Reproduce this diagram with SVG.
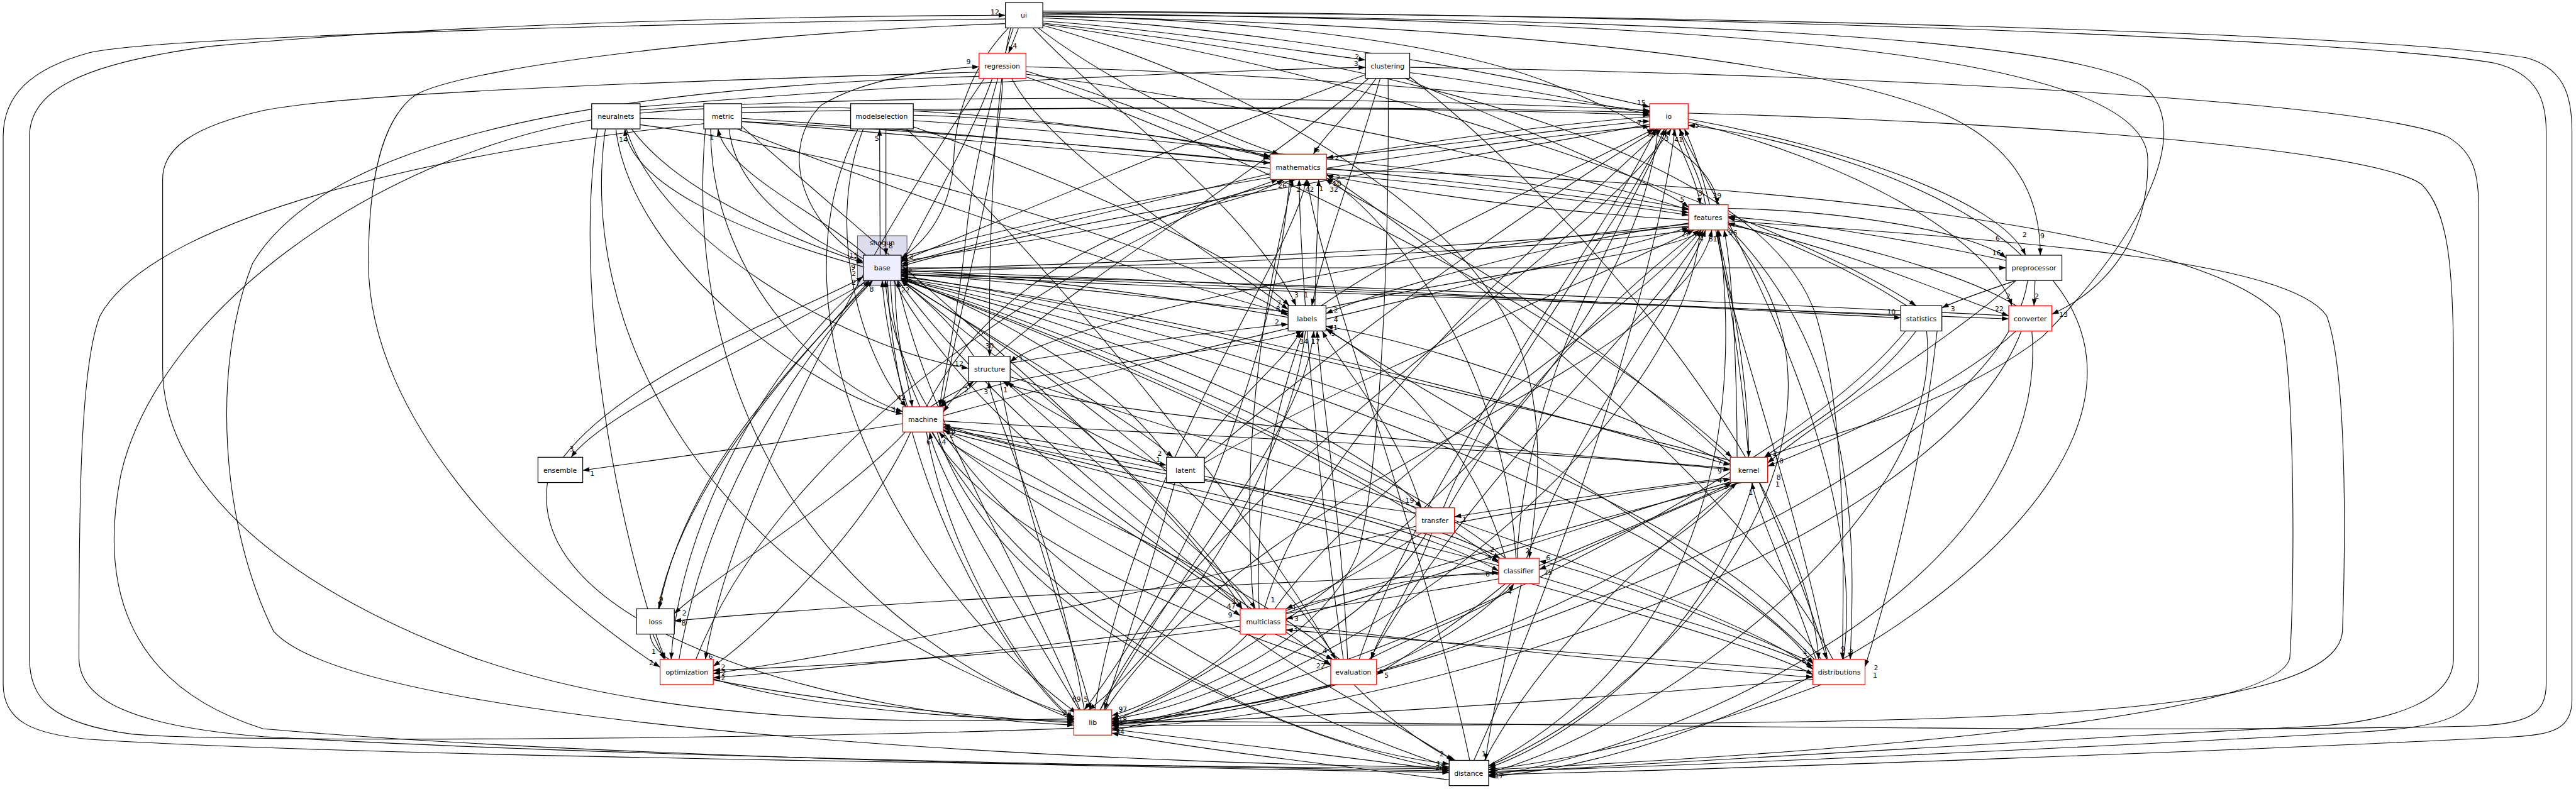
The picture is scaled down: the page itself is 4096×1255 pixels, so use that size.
<svg xmlns="http://www.w3.org/2000/svg" width="4096" height="1255" viewBox="0 0 4096 1255">
<defs>
<marker id="a" viewBox="0 0 10 7" refX="10" refY="3.5" markerWidth="13" markerHeight="9" orient="auto" markerUnits="userSpaceOnUse"><path d="M0,0L10,3.5L0,7z" fill="#000"/></marker>
<style>
.e path{fill:none;stroke:#000;stroke-width:1.3;marker-end:url(#a)}
.n rect{fill:#fff;stroke:#000;stroke-width:1.5}
.r rect{stroke:#ff0000}
.b rect{fill:#eeeeff}
text{font-family:'DejaVu Sans','Liberation Sans',sans-serif;font-size:13px;text-anchor:middle;fill:#000}
</style>
</defs>
<rect width="4096" height="1255" fill="#fff"/>
<g transform="scale(0.837)">
<g id="cluster-shogun"><rect x="1629" y="448" width="94" height="95" fill="#ddddee" stroke="#666" stroke-width="1.3"/><text x="1676" y="466">shogun</text></g>
<g id="connectors" class="e">
<path d="M1935,53 L1916,101"/>
<path d="M1981,40 C2200,55 2450,95 2594,114"/>
<path d="M1981,34 C2400,50 2900,150 3134,203"/>
<path d="M1981,30 C2400,38 2750,80 2950,160 C3150,240 3262,320 3262,389"/>
<path d="M1981,31 C2800,45 3450,110 3700,220 C3850,290 3876,400 3876,485"/>
<path d="M1981,27 C3000,35 3950,60 4080,170 C4170,260 4050,470 3880,640 C3700,780 3450,830 3352,869"/>
<path d="M1981,25 C3200,40 4070,90 4080,300 C4085,470 3980,560 3898,597"/>
<path d="M1981,23 C3200,28 4500,60 4800,110 C4870,130 4886,180 4886,250 L4886,1330 C4886,1385 4850,1395 4780,1400 C4300,1425 3300,1462 2828,1472"/>
<path d="M1981,21 C3100,25 4450,70 4740,120 C4820,140 4837,190 4837,250 L4837,1300 C4837,1360 4800,1375 4700,1380 C4000,1395 2700,1372 2112,1370"/>
<path d="M1916,53 C1860,110 1815,200 1812,300 C1808,390 1770,450 1712,491"/>
<path d="M1925,53 C1890,160 1850,300 1835,450 C1820,600 1795,700 1785,773"/>
<path d="M1962,53 C2100,200 2380,400 2462,581"/>
<path d="M1972,53 C2100,150 2300,250 2430,293"/>
<path d="M1981,48 C2350,150 2820,400 2900,700 C2940,850 2912,1000 2905,1061"/>
<path d="M1981,44 C2700,120 3350,300 3450,600 C3510,800 3502,1100 3500,1253"/>
<path d="M1920,53 C1885,200 1878,500 1880,677"/>
<path d="M1981,46 C2600,130 3400,420 3640,581"/>
<path d="M1910,36 C1400,42 320,66 170,100 C60,130 6,180 6,260 L6,1300 C6,1370 60,1395 170,1405 C700,1440 2300,1457 2753,1461"/>
<path d="M2040,1384 C1500,1405 420,1412 250,1395 C100,1375 56,1330 56,1250 L56,260 C56,170 160,120 400,88 C900,40 1600,30 1910,29"/>
<path d="M1860,137 C1500,148 700,170 500,210 C370,240 309,280 309,340 L309,700 C309,900 500,1100 900,1250 C1300,1390 1800,1370 2040,1366"/>
<path d="M1910,45 C1500,58 900,120 790,180 C740,215 700,300 700,500 C700,800 1000,1100 1254,1268"/>
<path d="M1337,235 C900,280 300,400 190,600 C150,700 150,1000 150,1250 C150,1330 250,1380 500,1400 C1200,1440 2300,1458 2753,1465"/>
<path d="M1124,228 C700,300 300,600 230,900 C190,1100 230,1300 500,1385 C1200,1445 2300,1460 2753,1468"/>
<path d="M1860,145 C1000,170 600,300 480,500 C400,700 420,1000 520,1200 C700,1400 2300,1455 2753,1458"/>
<path d="M2678,128 C3500,140 4500,190 4650,260 C4700,290 4709,330 4709,400 L4709,1280 C4709,1360 4650,1380 4500,1390 C4000,1420 3100,1460 2828,1466"/>
<path d="M3207,215 C3800,230 4500,280 4600,350 C4650,400 4661,500 4661,700 L4661,1250 C4661,1330 4550,1370 4400,1380 C3800,1410 3100,1455 2828,1469"/>
<path d="M3283,420 C3900,460 4350,500 4420,600 C4457,700 4457,1000 4450,1200 C4440,1330 4000,1360 3500,1370 C3000,1380 2400,1378 2112,1378"/>
<path d="M2520,322 C3500,350 4200,450 4330,600 C4360,700 4360,1100 4350,1250 C4330,1350 3700,1420 2828,1463"/>
<path d="M1949,127 C2400,138 2900,180 3134,212"/>
<path d="M1949,135 C2100,180 2300,260 2413,303"/>
<path d="M1949,141 C2400,200 3000,330 3208,399"/>
<path d="M1885,149 C1850,250 1765,400 1712,500"/>
<path d="M1922,149 C2000,300 2330,500 2447,588"/>
<path d="M1905,149 C1900,300 1820,600 1790,773"/>
<path d="M1949,146 C2400,300 3000,600 3290,869"/>
<path d="M1870,149 C1700,400 1400,900 1340,1253"/>
<path d="M1640,492 C1520,420 1480,280 1560,200 C1640,150 1780,130 1860,127"/>
<path d="M2614,149 C2580,200 2520,250 2495,293"/>
<path d="M2678,138 C2850,160 3050,200 3134,217"/>
<path d="M2670,149 C2900,250 3150,350 3208,394"/>
<path d="M2594,142 C2300,250 1900,420 1712,496"/>
<path d="M2678,146 C3000,400 3430,900 3455,1253"/>
<path d="M2622,149 C2580,300 2520,450 2492,581"/>
<path d="M2637,149 C2640,500 2620,900 2580,1050 C2500,1250 2200,1340 2112,1366"/>
<path d="M2600,149 C2300,400 1900,620 1792,783"/>
<path d="M1216,203 C1700,160 2300,135 2594,128"/>
<path d="M1200,245 C1300,380 1550,470 1640,500"/>
<path d="M1216,215 C1600,180 2100,230 2413,299"/>
<path d="M1216,225 C1700,230 2900,350 3208,404"/>
<path d="M1216,209 C1800,170 2800,190 3134,210"/>
<path d="M1170,245 C1200,500 1550,750 1715,787"/>
<path d="M1150,245 C1100,600 1300,1100 2040,1362"/>
<path d="M1135,245 C1080,600 1200,1100 1264,1253"/>
<path d="M1216,237 C1700,300 2300,500 2447,600"/>
<path d="M1190,245 C1250,450 1600,660 1840,700"/>
<path d="M1640,507 C1400,440 1200,350 1187,245"/>
<path d="M1385,245 C1400,380 1560,470 1640,497"/>
<path d="M1409,225 C1800,250 2200,290 2413,310"/>
<path d="M1409,231 C1900,270 2900,360 3208,409"/>
<path d="M1409,214 C2000,200 2800,205 3134,219"/>
<path d="M1350,245 C1350,550 1600,750 1715,782"/>
<path d="M1340,245 C1300,700 1500,1150 2040,1368"/>
<path d="M1409,240 C1700,500 2200,900 2360,1157"/>
<path d="M1400,245 C1800,400 2300,560 2447,596"/>
<path d="M1645,485 C1550,400 1380,330 1364,245"/>
<path d="M1683,245 L1683,485"/>
<path d="M1672,485 L1671,245"/>
<path d="M1735,219 C2000,225 2300,270 2413,297"/>
<path d="M1735,229 C2200,260 2900,340 3208,397"/>
<path d="M1735,211 C2200,200 2800,205 3134,214"/>
<path d="M1640,245 C1560,450 1650,700 1722,773"/>
<path d="M1722,245 C2000,500 2400,1000 2537,1253"/>
<path d="M1630,245 C1450,600 1700,1100 2045,1355"/>
<path d="M1735,241 C2000,330 2350,480 2449,581"/>
<path d="M3134,236 C2800,300 2000,420 1712,506"/>
<path d="M3150,245 C3100,700 2500,1200 2112,1372"/>
<path d="M2520,300 C2800,270 3000,240 3134,230"/>
<path d="M3240,389 C3230,330 3200,290 3192,245"/>
<path d="M1712,489 C2200,350 2900,260 3134,240"/>
<path d="M2510,581 C2700,450 3000,320 3142,245"/>
<path d="M2090,1349 C2300,900 3000,500 3175,245"/>
<path d="M3207,226 C3500,280 3800,380 3848,485"/>
<path d="M3207,232 C3500,300 3780,450 3822,581"/>
<path d="M3178,245 C3200,300 3225,350 3230,389"/>
<path d="M2413,330 C2200,380 1900,450 1712,502"/>
<path d="M2450,341 C2420,700 2250,1100 2060,1349"/>
<path d="M1712,497 C2000,450 2350,400 2438,341"/>
<path d="M2080,1349 C2150,900 2450,500 2482,341"/>
<path d="M3208,418 C2900,400 2650,360 2520,333"/>
<path d="M2498,581 C2500,480 2505,400 2505,341"/>
<path d="M1760,773 C1900,500 2200,400 2462,341"/>
<path d="M3287,878 C3000,600 2650,420 2518,341"/>
<path d="M2880,1061 C2860,700 2650,420 2520,338"/>
<path d="M3134,222 C2900,240 2650,280 2520,300"/>
<path d="M3208,430 C2700,480 2100,500 1712,512"/>
<path d="M3230,437 C3200,800 2600,1300 2112,1388"/>
<path d="M1712,516 C2300,505 3000,470 3212,437"/>
<path d="M2100,1349 C2400,900 3200,700 3252,437"/>
<path d="M3300,869 C3300,700 3290,500 3275,437"/>
<path d="M3283,427 C3500,470 3700,560 3816,600"/>
<path d="M3262,437 C3300,600 3322,750 3322,869"/>
<path d="M3208,424 C2900,470 2600,560 2519,596"/>
<path d="M3281,437 C3600,800 3200,1300 2828,1456"/>
<path d="M2519,586 C2800,520 3200,480 3232,437"/>
<path d="M3283,432 C3550,700 3520,1100 3515,1253"/>
<path d="M1792,790 C2300,650 3000,500 3208,432"/>
<path d="M3283,396 C3500,400 3750,440 3811,490"/>
<path d="M1686,533 C1700,900 1900,1250 2040,1372"/>
<path d="M1712,520 C2000,540 2300,580 2447,592"/>
<path d="M1700,533 C1700,650 1725,720 1733,773"/>
<path d="M1712,526 C2300,600 3000,800 3287,884"/>
<path d="M1712,531 C2200,700 2700,950 2847,1070"/>
<path d="M1706,533 C1900,800 2250,1050 2360,1157"/>
<path d="M1698,533 C1900,900 2400,1150 2528,1265"/>
<path d="M1692,533 C1700,1000 2300,1400 2753,1452"/>
<path d="M1712,529 C2500,700 3300,1050 3444,1262"/>
<path d="M1712,515 C2500,540 3300,590 3611,604"/>
<path d="M1712,522 C2500,560 3500,590 3816,606"/>
<path d="M1712,509 L3811,509"/>
<path d="M1650,533 C1450,650 1150,780 1085,869"/>
<path d="M1656,533 C1500,700 1300,900 1252,1157"/>
<path d="M1645,533 C1450,700 1290,1000 1275,1253"/>
<path d="M1712,530 C2200,650 2600,850 2700,965"/>
<path d="M1712,533 C1900,650 2150,800 2228,869"/>
<path d="M2447,603 C2200,560 1900,520 1712,514"/>
<path d="M2480,629 C2450,900 2200,1250 2068,1349"/>
<path d="M1782,773 C1900,700 2300,680 2475,629"/>
<path d="M2090,1349 C2300,1000 2480,800 2496,629"/>
<path d="M3287,882 C3000,750 2700,650 2519,620"/>
<path d="M2860,1061 C2800,850 2650,700 2519,626"/>
<path d="M1919,690 C2100,660 2300,630 2447,616"/>
<path d="M3611,600 C3000,570 2200,540 1712,518"/>
<path d="M3640,629 C3550,750 3400,830 3352,869"/>
<path d="M3620,629 C3400,900 2600,1300 2112,1380"/>
<path d="M3660,629 C3700,1000 3100,1400 2828,1468"/>
<path d="M3622,581 C3500,500 3350,440 3283,424"/>
<path d="M3680,629 C3650,900 3580,1150 3543,1267"/>
<path d="M3830,533 C3780,550 3720,570 3689,585"/>
<path d="M3830,581 C3700,500 3400,440 3283,414"/>
<path d="M3830,629 C3700,750 3450,850 3358,886"/>
<path d="M3860,629 C3900,1100 3200,1420 2828,1474"/>
<path d="M3840,629 C3700,1000 2800,1350 2112,1384"/>
<path d="M3816,600 C3000,560 2200,530 1712,522"/>
<path d="M3866,533 L3864,581"/>
<path d="M3811,495 C3600,450 3400,420 3283,412"/>
<path d="M3830,533 C3700,650 3450,800 3358,880"/>
<path d="M3852,533 C3800,900 2700,1330 2112,1375"/>
<path d="M3900,533 C4200,900 3400,1430 2828,1476"/>
<path d="M3840,485 C3700,350 3400,260 3207,238"/>
<path d="M1850,677 C1800,600 1730,550 1712,532"/>
<path d="M1856,725 C1830,750 1800,765 1785,773"/>
<path d="M1768,773 C1800,750 1830,740 1850,725"/>
<path d="M2060,1349 C2000,1000 1890,800 1878,725"/>
<path d="M3287,890 C2800,850 2000,780 1905,725"/>
<path d="M3208,426 C2600,480 2000,620 1919,688"/>
<path d="M1900,725 C1950,1000 2050,1250 2072,1349"/>
<path d="M1919,716 C2500,900 3300,1150 3444,1272"/>
<path d="M1910,725 C2100,900 2350,1100 2385,1157"/>
<path d="M1724,773 C1700,700 1680,600 1676,533"/>
<path d="M1760,821 C1800,1050 1950,1300 2040,1366"/>
<path d="M1715,805 C1500,840 1200,880 1107,894"/>
<path d="M1720,821 C1600,950 1350,1100 1281,1166"/>
<path d="M1730,821 C1650,1000 1450,1200 1355,1266"/>
<path d="M1792,810 C1950,830 2100,860 2216,884"/>
<path d="M1792,800 C2300,830 3000,860 3287,893"/>
<path d="M1780,821 C1900,1200 2500,1420 2753,1462"/>
<path d="M1770,821 C1900,1050 2400,1220 2528,1262"/>
<path d="M2690,975 C2300,920 1900,850 1792,806"/>
<path d="M2847,1075 C2500,980 2000,870 1792,812"/>
<path d="M2360,1157 C2150,1000 1900,870 1792,817"/>
<path d="M2050,1349 C1900,1100 1780,900 1766,821"/>
<path d="M2545,1253 C2300,1050 1850,900 1784,821"/>
<path d="M1792,815 C2300,900 2700,1000 2847,1085"/>
<path d="M1782,821 C2000,1000 2300,1130 2356,1170"/>
<path d="M1792,819 C2500,1000 3300,1200 3444,1282"/>
<path d="M1070,869 C1200,700 1550,580 1640,526"/>
<path d="M1040,917 C1000,1200 1600,1360 2040,1378"/>
<path d="M2220,869 C2100,700 1850,580 1712,528"/>
<path d="M2270,869 C2350,750 2450,680 2470,629"/>
<path d="M2288,880 C2600,700 3100,500 3218,437"/>
<path d="M2232,917 C2180,1100 2120,1280 2098,1349"/>
<path d="M2216,890 C2100,840 1950,760 1914,725"/>
<path d="M2288,905 C2500,950 2750,1020 2847,1066"/>
<path d="M2288,872 C2600,600 3050,300 3152,245"/>
<path d="M3287,875 C2800,750 2100,580 1712,524"/>
<path d="M3300,917 C3100,1150 2500,1350 2112,1371"/>
<path d="M3330,917 C3250,1200 3000,1400 2828,1459"/>
<path d="M3342,917 C3400,1050 3450,1180 3470,1253"/>
<path d="M3322,869 C3300,600 3250,350 3200,245"/>
<path d="M3287,908 C3100,930 2900,960 2763,982"/>
<path d="M2763,994 C2950,960 3150,925 3287,911"/>
<path d="M2924,1075 C3100,1000 3250,940 3290,917"/>
<path d="M3450,1253 C3400,1100 3340,980 3328,917"/>
<path d="M3305,917 C3100,1000 2980,1060 2924,1082"/>
<path d="M2443,1165 C2800,1050 3200,940 3358,906"/>
<path d="M3290,915 C3000,1000 2600,1140 2443,1176"/>
<path d="M2820,1445 C2950,1200 3200,1000 3300,917"/>
<path d="M2740,1013 C2790,1030 2830,1050 2850,1061"/>
<path d="M2700,1013 C2600,1080 2480,1140 2443,1157"/>
<path d="M2720,1013 C2680,1120 2620,1200 2605,1253"/>
<path d="M2710,1013 C2600,1200 2300,1340 2112,1367"/>
<path d="M2690,978 C2400,800 1900,600 1712,530"/>
<path d="M2752,965 C2900,700 3150,500 3228,437"/>
<path d="M2700,965 C2650,800 2550,700 2512,629"/>
<path d="M2742,965 C2850,700 3100,400 3162,245"/>
<path d="M2690,1000 C2300,1100 1700,1230 1355,1280"/>
<path d="M2890,1109 C2860,1250 2830,1380 2822,1445"/>
<path d="M2870,1109 C2700,1300 2300,1370 2112,1376"/>
<path d="M2860,1061 C2600,850 2000,620 1712,531"/>
<path d="M2900,1061 C3000,800 3200,550 3240,437"/>
<path d="M2882,1061 C2900,700 3100,400 3166,245"/>
<path d="M2443,1160 C2600,1110 2750,1090 2847,1088"/>
<path d="M2860,1109 C2750,1200 2650,1260 2615,1282"/>
<path d="M2924,1096 C3100,1150 3350,1220 3444,1266"/>
<path d="M2847,1100 C2300,1200 1700,1260 1355,1288"/>
<path d="M2600,1253 C2700,1200 2850,1150 2876,1109"/>
<path d="M3444,1260 C3200,1150 3000,1080 2924,1066"/>
<path d="M2847,1090 C2300,1110 1600,1150 1281,1180"/>
<path d="M2372,1205 C2500,1300 2700,1400 2760,1445"/>
<path d="M2370,1205 C2300,1280 2180,1340 2112,1360"/>
<path d="M2422,1205 C2480,1230 2515,1245 2532,1253"/>
<path d="M2356,1190 C2000,1240 1600,1265 1355,1274"/>
<path d="M2372,1157 C2200,900 1850,650 1712,532"/>
<path d="M2422,1157 C2600,900 3100,600 3232,437"/>
<path d="M2392,1157 C2380,900 2450,700 2476,629"/>
<path d="M2402,1157 C2500,800 3000,400 3156,245"/>
<path d="M2382,1157 C2350,800 2420,500 2456,341"/>
<path d="M2443,1187 C2800,1230 3200,1270 3444,1287"/>
<path d="M3444,1276 C3100,1250 2700,1215 2443,1197"/>
<path d="M1235,1205 C1240,1300 1600,1360 2040,1371"/>
<path d="M1250,1157 C1300,900 1550,650 1652,533"/>
<path d="M1240,1205 L1262,1253"/>
<path d="M1355,1292 C1600,1340 1900,1365 2040,1374"/>
<path d="M1290,1253 C1350,900 1550,650 1658,533"/>
<path d="M1322,1253 C1500,800 2100,450 2428,341"/>
<path d="M2540,1301 C2400,1340 2200,1365 2112,1373"/>
<path d="M2540,1253 C2300,900 1900,650 1712,532"/>
<path d="M2560,1253 C2550,1000 2510,750 2502,629"/>
<path d="M2602,1253 C2800,900 3150,600 3236,437"/>
<path d="M2582,1253 C2700,900 3050,450 3146,245"/>
<path d="M2572,1301 C2650,1380 2730,1430 2765,1445"/>
<path d="M2552,1253 C2500,900 2470,500 2468,341"/>
<path d="M3444,1291 C3000,1330 2500,1365 2112,1375"/>
<path d="M3460,1253 C3200,900 2200,600 1712,529"/>
<path d="M3472,1253 C3400,900 3280,600 3262,437"/>
<path d="M3502,1253 C3550,900 3300,450 3190,245"/>
<path d="M3482,1253 C3300,900 2700,450 2520,331"/>
<path d="M3450,1256 C3200,1000 2700,750 2519,624"/>
<path d="M3460,1301 C3200,1400 2950,1450 2828,1462"/>
<path d="M2052,1349 C1950,1100 1760,800 1705,533"/>
<path d="M2112,1386 C2400,1420 2650,1450 2753,1465"/>
<path d="M2753,1482 C2500,1450 2250,1420 2112,1393"/>
<path d="M2828,1455 C3300,1200 3300,700 3265,437"/>
<path d="M2753,1458 C2000,1200 1700,800 1682,533"/>
<path d="M2800,1445 C3000,1000 3150,500 3182,245"/>
<path d="M2792,1445 C2700,1000 2500,500 2484,341"/>
</g>
<g id="node-ui" class="n"><rect x="1910" y="5" width="71" height="48"/><text x="1945" y="34">ui</text></g>
<g id="node-regression" class="n r"><rect x="1860" y="101" width="89" height="48"/><text x="1904" y="130">regression</text></g>
<g id="node-clustering" class="n"><rect x="2594" y="101" width="84" height="48"/><text x="2636" y="130">clustering</text></g>
<g id="node-neuralnets" class="n"><rect x="1124" y="197" width="92" height="48"/><text x="1170" y="226">neuralnets</text></g>
<g id="node-metric" class="n"><rect x="1337" y="197" width="72" height="48"/><text x="1373" y="226">metric</text></g>
<g id="node-modelselection" class="n"><rect x="1616" y="197" width="119" height="48"/><text x="1675" y="226">modelselection</text></g>
<g id="node-io" class="n r"><rect x="3134" y="197" width="73" height="48"/><text x="3170" y="226">io</text></g>
<g id="node-mathematics" class="n r"><rect x="2413" y="293" width="107" height="48"/><text x="2466" y="322">mathematics</text></g>
<g id="node-features" class="n r"><rect x="3208" y="389" width="75" height="48"/><text x="3245" y="418">features</text></g>
<g id="node-base" class="n b"><rect x="1640" y="485" width="72" height="48"/><text x="1676" y="514">base</text></g>
<g id="node-preprocessor" class="n"><rect x="3811" y="485" width="106" height="48"/><text x="3864" y="514">preprocessor</text></g>
<g id="node-labels" class="n"><rect x="2447" y="581" width="72" height="48"/><text x="2483" y="610">labels</text></g>
<g id="node-statistics" class="n"><rect x="3611" y="581" width="78" height="48"/><text x="3650" y="610">statistics</text></g>
<g id="node-converter" class="n r"><rect x="3816" y="581" width="82" height="48"/><text x="3857" y="610">converter</text></g>
<g id="node-structure" class="n"><rect x="1840" y="677" width="79" height="48"/><text x="1880" y="706">structure</text></g>
<g id="node-machine" class="n r"><rect x="1715" y="773" width="77" height="48"/><text x="1753" y="802">machine</text></g>
<g id="node-ensemble" class="n"><rect x="1022" y="869" width="85" height="48"/><text x="1064" y="898">ensemble</text></g>
<g id="node-latent" class="n"><rect x="2216" y="869" width="72" height="48"/><text x="2252" y="898">latent</text></g>
<g id="node-kernel" class="n r"><rect x="3287" y="869" width="71" height="48"/><text x="3322" y="898">kernel</text></g>
<g id="node-transfer" class="n r"><rect x="2690" y="965" width="73" height="48"/><text x="2726" y="994">transfer</text></g>
<g id="node-classifier" class="n r"><rect x="2847" y="1061" width="77" height="48"/><text x="2885" y="1090">classifier</text></g>
<g id="node-loss" class="n"><rect x="1209" y="1157" width="72" height="48"/><text x="1245" y="1186">loss</text></g>
<g id="node-multiclass" class="n r"><rect x="2356" y="1157" width="87" height="48"/><text x="2400" y="1186">multiclass</text></g>
<g id="node-optimization" class="n r"><rect x="1254" y="1253" width="101" height="48"/><text x="1305" y="1282">optimization</text></g>
<g id="node-evaluation" class="n r"><rect x="2528" y="1253" width="87" height="48"/><text x="2571" y="1282">evaluation</text></g>
<g id="node-distributions" class="n r"><rect x="3444" y="1253" width="99" height="48"/><text x="3494" y="1282">distributions</text></g>
<g id="node-lib" class="n r"><rect x="2040" y="1349" width="72" height="48"/><text x="2076" y="1378">lib</text></g>
<g id="node-distance" class="n"><rect x="2753" y="1445" width="75" height="48"/><text x="2790" y="1474">distance</text></g>
<g id="edge-labels">
<text x="1890" y="28">12</text><text x="1928" y="92">4</text><text x="1840" y="122">9</text><text x="2578" y="112">2</text><text x="2576" y="126">3</text>
<text x="1184" y="270">14</text><text x="1352" y="265">1</text><text x="1666" y="268">5</text><text x="1692" y="472">8</text>
<text x="3118" y="199">15</text><text x="3114" y="238">7</text><text x="3134" y="259">8</text><text x="3166" y="268">3</text><text x="3189" y="270">41</text><text x="3224" y="243">5</text>
<text x="2503" y="289">6</text><text x="2540" y="304">2</text><text x="2436" y="357">26</text><text x="2467" y="364">2</text><text x="2488" y="364">42</text><text x="2510" y="363">1</text><text x="2534" y="364">32</text><text x="2542" y="343">2</text><text x="2540" y="354">10</text>
<text x="3196" y="384">5</text><text x="3230" y="372">3</text><text x="3262" y="376">39</text><text x="3202" y="449">27</text><text x="3232" y="459">4</text><text x="3254" y="459">81</text><text x="3292" y="447">96</text>
<text x="3795" y="458">6</text><text x="3846" y="451">2</text><text x="3880" y="453">9</text><text x="3793" y="485">16</text>
<text x="3815" y="568">2</text><text x="3869" y="568">2</text><text x="3798" y="591">22</text><text x="3920" y="602">13</text>
<text x="3710" y="591">3</text><text x="3593" y="597">10</text>
<text x="1731" y="492">3</text><text x="1656" y="554">8</text><text x="1720" y="556">22</text><text x="1622" y="490">15</text><text x="1621" y="513">9</text><text x="1622" y="524">2</text><text x="1622" y="541">2</text><text x="1729" y="520">2</text><text x="1729" y="537">5</text>
<text x="1880" y="662">30</text><text x="1822" y="695">12</text><text x="1940" y="687">1</text><text x="1836" y="745">2</text><text x="1873" y="749">3</text><text x="1910" y="746">1</text>
<text x="1712" y="760">42</text><text x="1794" y="772">4</text><text x="1697" y="783">3</text><text x="1807" y="823">3</text><text x="1813" y="823">1</text><text x="1808" y="832">2</text><text x="1764" y="845">6</text><text x="1789" y="845">14</text>
<text x="2203" y="866">2</text><text x="2200" y="878">1</text>
<text x="2463" y="565">3</text><text x="2481" y="565">1</text><text x="2430" y="581">7</text><text x="2428" y="591">8</text><text x="2426" y="617">2</text><text x="2538" y="594">2</text><text x="2538" y="612">4</text><text x="2537" y="627">1</text><text x="2533" y="638">5</text><text x="2477" y="653">34</text><text x="2499" y="653">17</text>
<text x="3372" y="866">2</text><text x="3380" y="880">10</text><text x="3267" y="883">7</text><text x="3267" y="900">9</text><text x="3267" y="918">4</text><text x="3278" y="929">2</text><text x="3326" y="940">1</text><text x="3379" y="911">8</text><text x="3377" y="925">1</text>
<text x="2678" y="956">19</text><text x="2782" y="992">1</text>
<text x="1086" y="858">3</text><text x="1125" y="905">1</text>
<text x="2835" y="1049">2</text><text x="2829" y="1064">3</text><text x="2902" y="1051">2</text><text x="2941" y="1064">6</text><text x="2941" y="1092">25</text><text x="2826" y="1095">6</text><text x="2868" y="1129">4</text>
<text x="1256" y="1143">9</text><text x="1300" y="1170">2</text><text x="1299" y="1189">8</text>
<text x="1242" y="1243">1</text><text x="1237" y="1264">2</text><text x="1350" y="1252">6</text><text x="1374" y="1272">2</text><text x="1375" y="1283">2</text><text x="1374" y="1293">2</text>
<text x="2345" y="1147">1</text><text x="2339" y="1156">47</text><text x="2337" y="1173">9</text><text x="2418" y="1145">1</text><text x="2459" y="1160">1</text><text x="2463" y="1180">3</text><text x="2461" y="1200">3</text>
<text x="2517" y="1241">4</text><text x="2607" y="1248">1</text><text x="2509" y="1270">22</text><text x="2634" y="1288">5</text>
<text x="3429" y="1243">1</text><text x="3501" y="1238">9</text><text x="3517" y="1244">3</text><text x="3427" y="1261">5</text><text x="3564" y="1273">2</text><text x="3562" y="1288">1</text>
<text x="2045" y="1333">89</text><text x="2063" y="1333">5</text><text x="2133" y="1353">97</text><text x="2027" y="1359">23</text><text x="2133" y="1373">18</text><text x="2128" y="1395">84</text>
<text x="2739" y="1437">2</text><text x="2819" y="1437">1</text><text x="2733" y="1456">1</text><text x="2735" y="1463">20</text><text x="2848" y="1479">17</text>
</g>
</g>
</svg>
